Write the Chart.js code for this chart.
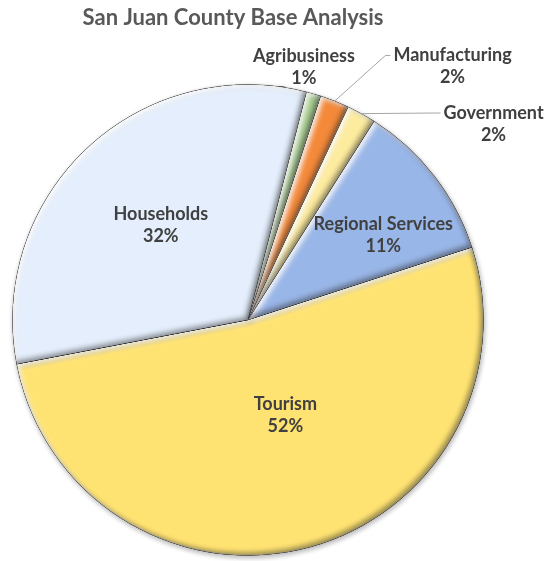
<!DOCTYPE html>
<html>
<head>
<meta charset="utf-8">
<script src="https://cdn.jsdelivr.net/npm/chart.js@4.4.1/dist/chart.umd.min.js"></script>
<style>
  html, body { margin: 0; background: #fff; }
  #wrap { width: 552px; height: 561px; }
</style>
</head>
<body>
<div id="wrap"><canvas id="basePie"></canvas></div>
<script>
// ── Data ─────────────────────────────────────────────
const TITLE   = "San Juan County Base Analysis";
const SECTORS = ["Tourism", "Households", "Agribusiness", "Manufacturing", "Government", "Regional Services"];
const SHARES  = [52, 32, 1, 2, 2, 11];
const FILLS   = ["#FFE372", "#E4EEFC", "#A9CF91", "#F4893A", "#FDEB9E", "#99B6E8"];

// label placement: r = fraction of radius, da = shift from slice middle (deg)
const LABEL_AT = [
  { r: 0.435, da: -7.0 },
  { r: 0.547, da:  0.6 },
  { r: 1.098, da: -3.7 },
  { r: 1.383, da: 17.3, leader: true },
  { r: 1.334, da: 22.6, leader: true },
  { r: 0.678, da:  5.7 },
];

const FONT = "Lato, 'Open Sans', sans-serif";

function arcPath(ctx, a) {
  ctx.beginPath();
  ctx.moveTo(a.x, a.y);
  ctx.arc(a.x, a.y, a.outerRadius, a.startAngle, a.endAngle);
  ctx.closePath();
}

// ── Soft bevel on each slice ─────────────────────────
const bevel = {
  id: "bevel",
  beforeDatasetsDraw(chart) {
    const ctx = chart.ctx;
    ctx.save();
    ctx.shadowColor = "rgba(0,0,0,0.28)";
    ctx.shadowBlur = 5;
    ctx.shadowOffsetX = 1;
    ctx.shadowOffsetY = 2;
  },
  afterDatasetsDraw(chart) {
    const ctx = chart.ctx;
    ctx.restore();
    chart.getDatasetMeta(0).data.forEach(el => {
      const a = el.getProps(["x", "y", "startAngle", "endAngle", "outerRadius"], true);
      const pass = (color, ox, oy) => {
        ctx.save();
        arcPath(ctx, a);
        ctx.clip();
        ctx.beginPath();
        ctx.rect(0, 0, chart.width, chart.height);
        ctx.moveTo(a.x, a.y);
        ctx.arc(a.x, a.y, a.outerRadius, a.startAngle, a.endAngle);
        ctx.closePath();
        ctx.shadowColor = color;
        ctx.shadowBlur = 5;
        ctx.shadowOffsetX = ox;
        ctx.shadowOffsetY = oy;
        ctx.fillStyle = "#000";
        ctx.fill("evenodd");
        ctx.restore();
      };
      pass("rgba(255,255,255,0.85)", 3, 3);
      pass("rgba(40,40,40,0.45)", -3, -3);
    });
  }
};

// ── Category / percent labels ────────────────────────
const sliceLabels = {
  id: "sliceLabels",
  afterDraw(chart) {
    const ctx = chart.ctx;
    const total = SHARES.reduce((s, v) => s + v, 0);
    ctx.save();
    ctx.font = "bold 18px " + FONT;
    ctx.textAlign = "center";
    ctx.textBaseline = "middle";
    chart.getDatasetMeta(0).data.forEach((el, i) => {
      const a = el.getProps(["x", "y", "startAngle", "endAngle", "outerRadius"], true);
      const pos = LABEL_AT[i];
      const mid = (a.startAngle + a.endAngle) / 2;
      const ang = mid + pos.da * Math.PI / 180;
      const lx = a.x + Math.cos(ang) * a.outerRadius * pos.r;
      const ly = a.y + Math.sin(ang) * a.outerRadius * pos.r;
      const pct = Math.round(SHARES[i] / total * 100) + "%";
      const lineH = 22;

      if (pos.leader) {
        const w = ctx.measureText(SECTORS[i]).width;
        const ex = lx - w / 2 - 3, ey = ly - lineH / 2;
        ctx.beginPath();
        ctx.moveTo(a.x + Math.cos(mid) * a.outerRadius, a.y + Math.sin(mid) * a.outerRadius);
        ctx.lineTo(ex - 5, ey);
        ctx.lineTo(ex, ey);
        ctx.strokeStyle = "#A6A6A6";
        ctx.lineWidth = 1;
        ctx.stroke();
      }
      ctx.fillStyle = "#404040";
      ctx.fillText(SECTORS[i], lx, ly - lineH / 2);
      ctx.fillText(pct, lx, ly + lineH / 2);
    });

    ctx.font = "bold 22px " + FONT;
    ctx.fillStyle = "#595959";
    ctx.fillText(TITLE, 233, 18);
    ctx.restore();
  }
};

new Chart(document.getElementById("basePie"), {
  type: "pie",
  data: {
    labels: SECTORS,
    datasets: [{
      data: SHARES,
      backgroundColor: FILLS,
      borderColor: "#B8B8B8",
      borderWidth: 1
    }]
  },
  options: {
    responsive: true, maintainAspectRatio: false,
    animation: false,
    rotation: 72,
    layout: { padding: { top: 84, bottom: 5, left: 12, right: 68 } },
    plugins: { legend: { display: false }, tooltip: { enabled: false }, title: { display: false } }
  },
  plugins: [bevel, sliceLabels]
});
</script>
</body>
</html>
